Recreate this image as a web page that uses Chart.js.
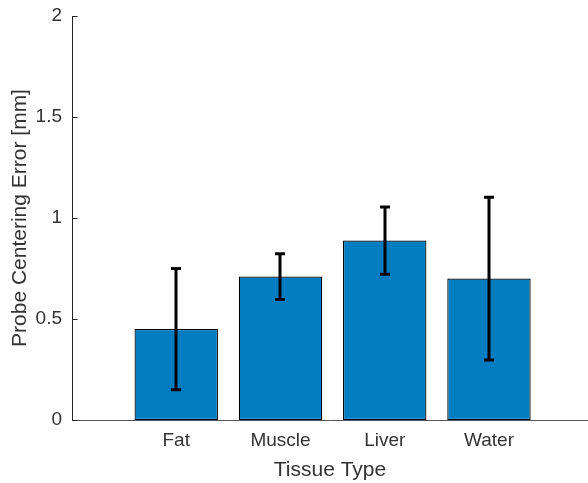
<!DOCTYPE html>
<html>
<head>
<meta charset="utf-8">
<script src="https://cdn.jsdelivr.net/npm/chart.js@4.4.1/dist/chart.umd.min.js"></script>
<style>
  html, body { margin: 0; padding: 0; background: #fff; overflow: hidden; }
  #wrap { width: 588px; height: 483px; position: relative; }
</style>
</head>
<body>
<div id="wrap"><canvas id="barChart"></canvas></div>
<script>
// data
const categories = ['Fat', 'Muscle', 'Liver', 'Water'];
const meanError = [0.45, 0.71, 0.888, 0.70];
const stdError = [0.30, 0.113, 0.166, 0.403];
const yTicks = [0, 0.5, 1, 1.5, 2];

const axisColor = '#262626';
const fontFamily = '"Liberation Sans", Arial, Helvetica, sans-serif';

// bars sit at x = 1..4 on a linear axis, like matlab's bar()
const points = categories.map((c, i) => ({ x: i + 1, y: meanError[i] }));

// error bars + inward y ticks
const errorBarPlugin = {
    id: 'errorBars',
    afterDatasetsDraw(chart) {
        const ctx = chart.ctx;
        const xs = chart.scales.x;
        const ys = chart.scales.y;
        ctx.save();
        ctx.strokeStyle = '#000';
        ctx.lineWidth = 3;
        ctx.lineCap = 'butt';
        for (let i = 0; i < categories.length; i++) {
            const x = Math.round(xs.getPixelForValue(i + 1));
            const top = ys.getPixelForValue(meanError[i] + stdError[i]);
            const bot = ys.getPixelForValue(meanError[i] - stdError[i]);
            ctx.beginPath();
            ctx.moveTo(x, top);
            ctx.lineTo(x, bot);
            ctx.moveTo(x - 5, top);
            ctx.lineTo(x + 5, top);
            ctx.moveTo(x - 5, bot);
            ctx.lineTo(x + 5, bot);
            ctx.stroke();
        }
        // small ticks pointing into the plot
        ctx.strokeStyle = axisColor;
        ctx.lineWidth = 1;
        const left = chart.chartArea.left + 0.5;
        yTicks.forEach(v => {
            const y = Math.round(ys.getPixelForValue(v)) + 0.5;
            ctx.beginPath();
            ctx.moveTo(left, y);
            ctx.lineTo(left + 5, y);
            ctx.stroke();
        });
        ctx.restore();
    }
};

const ctx = document.getElementById('barChart');

const barChart = new Chart(ctx, {
    type: 'bar',
    data: {
        datasets: [{
            data: points,
            backgroundColor: '#007CC0',
            borderColor: '#000',
            borderWidth: 1.2,
            borderSkipped: false,
            categoryPercentage: 1,
            barPercentage: 0.8
        }]
    },
    options: {
        responsive: true,
        maintainAspectRatio: false,
        animation: false,
        layout: { padding: { top: 16, right: 0, bottom: 0, left: 0 } },
        plugins: {
            legend: { display: false },
            tooltip: { enabled: false }
        },
        scales: {
            x: {
                type: 'linear',
                offset: false,
                min: 0,
                max: 4.95,
                afterBuildTicks: (scale) => {
                    scale.ticks = categories.map((c, i) => ({ value: i + 1 }));
                },
                afterFit: (scale) => {
                    scale.height = 63;
                    scale.paddingLeft = 0;
                    scale.paddingRight = 0;
                },
                grid: { display: false, drawTicks: false },
                border: { display: true, color: '#555', width: 1 },
                ticks: {
                    padding: 9,
                    color: '#333',
                    font: { family: fontFamily, size: 19 },
                    callback: (v) => categories[v - 1] || ''
                },
                title: {
                    display: true,
                    text: 'Tissue Type',
                    color: '#333',
                    font: { family: fontFamily, size: 21 },
                    padding: { top: 0, bottom: 0 }
                }
            },
            y: {
                min: 0,
                max: 2,
                afterBuildTicks: (scale) => {
                    scale.ticks = yTicks.map(v => ({ value: v }));
                },
                afterFit: (scale) => {
                    scale.width = 72;
                    scale.paddingTop = 0;
                    scale.paddingBottom = 0;
                },
                grid: { display: false, drawTicks: false },
                border: { display: true, color: axisColor, width: 1 },
                ticks: {
                    padding: 10,
                    color: '#333',
                    font: { family: fontFamily, size: 19 },
                    callback: (v) => String(v)
                },
                title: {
                    display: true,
                    text: 'Probe Centering Error [mm]',
                    color: '#333',
                    font: { family: fontFamily, size: 21 },
                    padding: { top: 8, bottom: 0 }
                }
            }
        }
    },
    plugins: [errorBarPlugin]
});
</script>
</body>
</html>
